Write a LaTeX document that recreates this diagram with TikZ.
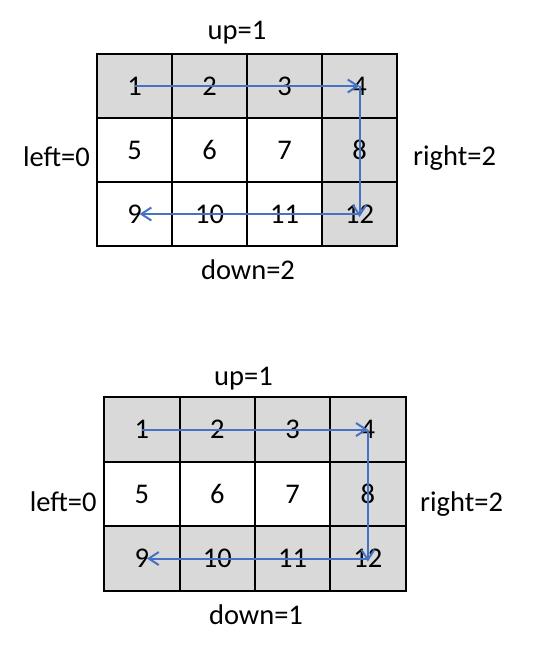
\documentclass[tikz,border=0pt]{standalone}
\usepackage{fontspec}
\setmainfont{Carlito}
\usetikzlibrary{arrows.meta}

\definecolor{walkblue}{RGB}{68,114,196}
\definecolor{cellgray}{RGB}{217,217,217}

\tikzset{
    cell/.style={rectangle,inner sep=0pt},
    border/.style={line width=1.8pt},
    walk/.style={-{Straight Barb[length=10pt,width=13pt]},walkblue,line width=2pt},
    lbl/.style={inner sep=0pt}
}

\begin{document}
\begin{tikzpicture}[x=1pt,y=-1pt,font=\fontsize{28.5}{34}\selectfont]
    \useasboundingbox (0,0) rectangle (534,651);

    % upper grid: up=1, down=2
    \foreach \n/\fc in {1/cellgray,2/cellgray,3/cellgray,4/cellgray,
                        5/white,6/white,7/white,8/cellgray,
                        9/white,10/white,11/white,12/cellgray}{
        \pgfmathtruncatemacro{\col}{mod(\n-1,4)}
        \pgfmathtruncatemacro{\row}{div(\n-1,4)}
        \node[cell,fill=\fc,minimum width=75pt,minimum height=64pt]
            (a\n) at (97+37.5+75*\col,54+32+64*\row) {\n};
    }
    \foreach \n in {1,...,12}
        \draw[border] (a\n.north west) rectangle (a\n.south east);
    \node[lbl,anchor=base] (aup) at (237,39.5) {up=1};
    \node[lbl,anchor=base east] (aleft) at (90,166.5) {left=0};
    \node[lbl,anchor=base west] (aright) at (413,165) {right=2};
    \node[lbl,anchor=base] (adown) at (248,279) {down=2};

    \draw[walk] (a1.center) -- (a4.center);
    \draw[walk] (a4.center) -- ([yshift=-3pt]a12.center);
    \draw[walk,shorten >=5pt] (a12.center) -- (a9.center);

    % lower grid: up=1, down=1
    \foreach \n/\fc in {1/cellgray,2/cellgray,3/cellgray,4/cellgray,
                        5/white,6/white,7/white,8/cellgray,
                        9/cellgray,10/cellgray,11/cellgray,12/cellgray}{
        \pgfmathtruncatemacro{\col}{mod(\n-1,4)}
        \pgfmathtruncatemacro{\row}{div(\n-1,4)}
        \node[cell,fill=\fc,minimum width=75.3pt,minimum height=64.5pt]
            (b\n) at (104.3+37.65+75.3*\col,397.3+32.25+64.5*\row) {\n};
    }
    \foreach \n in {1,...,12}
        \draw[border] (b\n.north west) rectangle (b\n.south east);
    \node[lbl,anchor=base] (bup) at (243.5,385) {up=1};
    \node[lbl,anchor=base east] (bleft) at (96.7,511.5) {left=0};
    \node[lbl,anchor=base west] (bright) at (420,511.5) {right=2};
    \node[lbl,anchor=base] (bdown) at (256,624) {down=1};

    \draw[walk] (b1.center) -- (b4.center);
    \draw[walk] (b4.center) -- ([yshift=-3pt]b12.center);
    \draw[walk,shorten >=5pt] (b12.center) -- (b9.center);
\end{tikzpicture}
\end{document}
